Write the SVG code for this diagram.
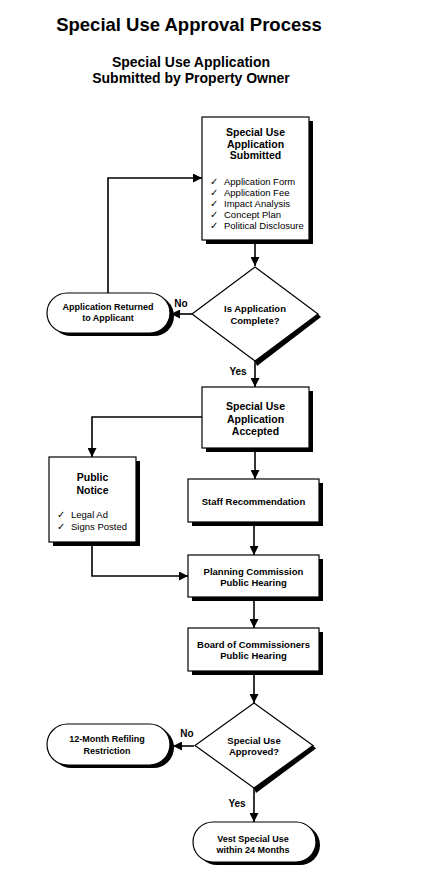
<svg xmlns="http://www.w3.org/2000/svg" width="421" height="875" viewBox="0 0 421 875">
<style>
.bg{fill:#fff}
.box{fill:#fff;stroke:#000;stroke-width:1.2}
.sh{fill:#000}
.t{font-family:"Liberation Sans",Arial,sans-serif;font-weight:bold;text-anchor:middle;fill:#000}
.c{font-family:"Liberation Sans",Arial,sans-serif;font-size:9.5px;fill:#000}
.h1{font-size:18.5px}
.h2{font-size:14px}
.b1{font-size:10.5px}
.b2{font-size:9.5px}
.p{font-size:9px}
.lb{font-size:10px}
.ln{fill:none;stroke:#000;stroke-width:1.6}
</style>
<defs>
<marker id="ah" markerWidth="9" markerHeight="9" refX="9" refY="4.5" orient="auto" markerUnits="userSpaceOnUse"><path d="M0,0 L9,4.5 L0,9 z" fill="#000"/></marker>
</defs>
<rect class="bg" x="0" y="0" width="421" height="875"/>
<g id="title">
<text class="t h1" x="189" y="31">Special Use Approval Process</text>
<text class="t h2" x="191" y="67">Special Use Application</text>
<text class="t h2" x="191" y="83">Submitted by Property Owner</text>
</g>
<g id="connectors">
<path class="ln" d="M255,243 V266" marker-end="url(#ah)"/>
<path class="ln" d="M192,314 H171" marker-end="url(#ah)"/>
<path class="ln" d="M108,293 V178 H202" marker-end="url(#ah)"/>
<path class="ln" d="M255,361 V387" marker-end="url(#ah)"/>
<path class="ln" d="M202,417 H92 V457" marker-end="url(#ah)"/>
<path class="ln" d="M255,452 V479" marker-end="url(#ah)"/>
<path class="ln" d="M254,524 V555" marker-end="url(#ah)"/>
<path class="ln" d="M92,545 V576 H188" marker-end="url(#ah)"/>
<path class="ln" d="M254,599 V628" marker-end="url(#ah)"/>
<path class="ln" d="M254,674 V703" marker-end="url(#ah)"/>
<path class="ln" d="M194,746 H173" marker-end="url(#ah)"/>
<path class="ln" d="M254,788 V822" marker-end="url(#ah)"/>
<text class="t lb" x="181" y="307">No</text>
<text class="t lb" x="238" y="375">Yes</text>
<text class="t lb" x="187" y="737">No</text>
<text class="t lb" x="237" y="807">Yes</text>
</g>
<g id="submitted">
<rect class="sh" x="206" y="121" width="107" height="123"/>
<rect class="box" x="202" y="117" width="107" height="123"/>
<text class="t b1" x="255.5" y="136">Special Use</text>
<text class="t b1" x="255.5" y="147.5">Application</text>
<text class="t b1" x="255.5" y="159">Submitted</text>
<text class="c" x="210" y="184.5">✓</text><text class="c" x="224" y="184.5">Application Form</text>
<text class="c" x="210" y="195.5">✓</text><text class="c" x="224" y="195.5">Application Fee</text>
<text class="c" x="210" y="206.5">✓</text><text class="c" x="224" y="206.5">Impact Analysis</text>
<text class="c" x="210" y="217.5">✓</text><text class="c" x="224" y="217.5">Concept Plan</text>
<text class="c" x="210" y="228.5">✓</text><text class="c" x="224" y="228.5">Political Disclosure</text>
</g>
<g id="complete">
<polygon class="sh" points="318,314 255,361 257,366 321,317"/>
<polygon class="box" points="255,267 318,314 255,361 192,314"/>
<text class="t b2" x="255" y="312">Is Application</text>
<text class="t b2" x="255" y="323.5">Complete?</text>
</g>
<g id="returned">
<rect class="sh" x="51" y="296" width="123" height="40" rx="20"/>
<rect class="box" x="47" y="293" width="123" height="40" rx="20"/>
<text class="t p" x="108" y="310">Application Returned</text>
<text class="t p" x="108" y="321">to Applicant</text>
</g>
<g id="accepted">
<rect class="sh" x="206" y="391" width="107" height="61"/>
<rect class="box" x="202" y="387" width="107" height="61"/>
<text class="t b1" x="255.5" y="410">Special Use</text>
<text class="t b1" x="255.5" y="422.5">Application</text>
<text class="t b1" x="255.5" y="435">Accepted</text>
</g>
<g id="notice">
<rect class="sh" x="53" y="461" width="87" height="85"/>
<rect class="box" x="49" y="457" width="87" height="85"/>
<text class="t b1" x="92.5" y="481">Public</text>
<text class="t b1" x="92.5" y="493.5">Notice</text>
<text class="c" x="57" y="517.5">✓</text><text class="c" x="71" y="517.5">Legal Ad</text>
<text class="c" x="57" y="529.5">✓</text><text class="c" x="71" y="529.5">Signs Posted</text>
</g>
<g id="staff">
<rect class="sh" x="192" y="483" width="131" height="43"/>
<rect class="box" x="188" y="479" width="131" height="43"/>
<text class="t b2" x="253.5" y="504.5">Staff Recommendation</text>
</g>
<g id="planning">
<rect class="sh" x="192" y="559" width="131" height="42"/>
<rect class="box" x="188" y="555" width="131" height="42"/>
<text class="t b2" x="253.5" y="574.5">Planning Commission</text>
<text class="t b2" x="253.5" y="586">Public Hearing</text>
</g>
<g id="board">
<rect class="sh" x="192" y="632" width="131" height="43"/>
<rect class="box" x="188" y="628" width="131" height="43"/>
<text class="t b2" x="253.5" y="647.5">Board of Commissioners</text>
<text class="t b2" x="253.5" y="659">Public Hearing</text>
</g>
<g id="approved">
<polygon class="sh" points="313,745.5 254,788 256,793 316,748.5"/>
<polygon class="box" points="254,703 313,745.5 254,788 195,745.5"/>
<text class="t b2" x="254" y="743.5">Special Use</text>
<text class="t b2" x="254" y="755">Approved?</text>
</g>
<g id="refiling">
<rect class="sh" x="51" y="727" width="123" height="41" rx="20.5"/>
<rect class="box" x="47" y="724" width="123" height="41" rx="20.5"/>
<text class="t p" x="107" y="741.5">12-Month Refiling</text>
<text class="t p" x="107" y="753.5">Restriction</text>
</g>
<g id="vest">
<rect class="sh" x="197" y="825" width="123" height="40" rx="20"/>
<rect class="box" x="193" y="822" width="123" height="40" rx="20"/>
<text class="t p" x="253" y="841.5">Vest Special Use</text>
<text class="t p" x="253" y="853">within 24 Months</text>
</g>
</svg>
